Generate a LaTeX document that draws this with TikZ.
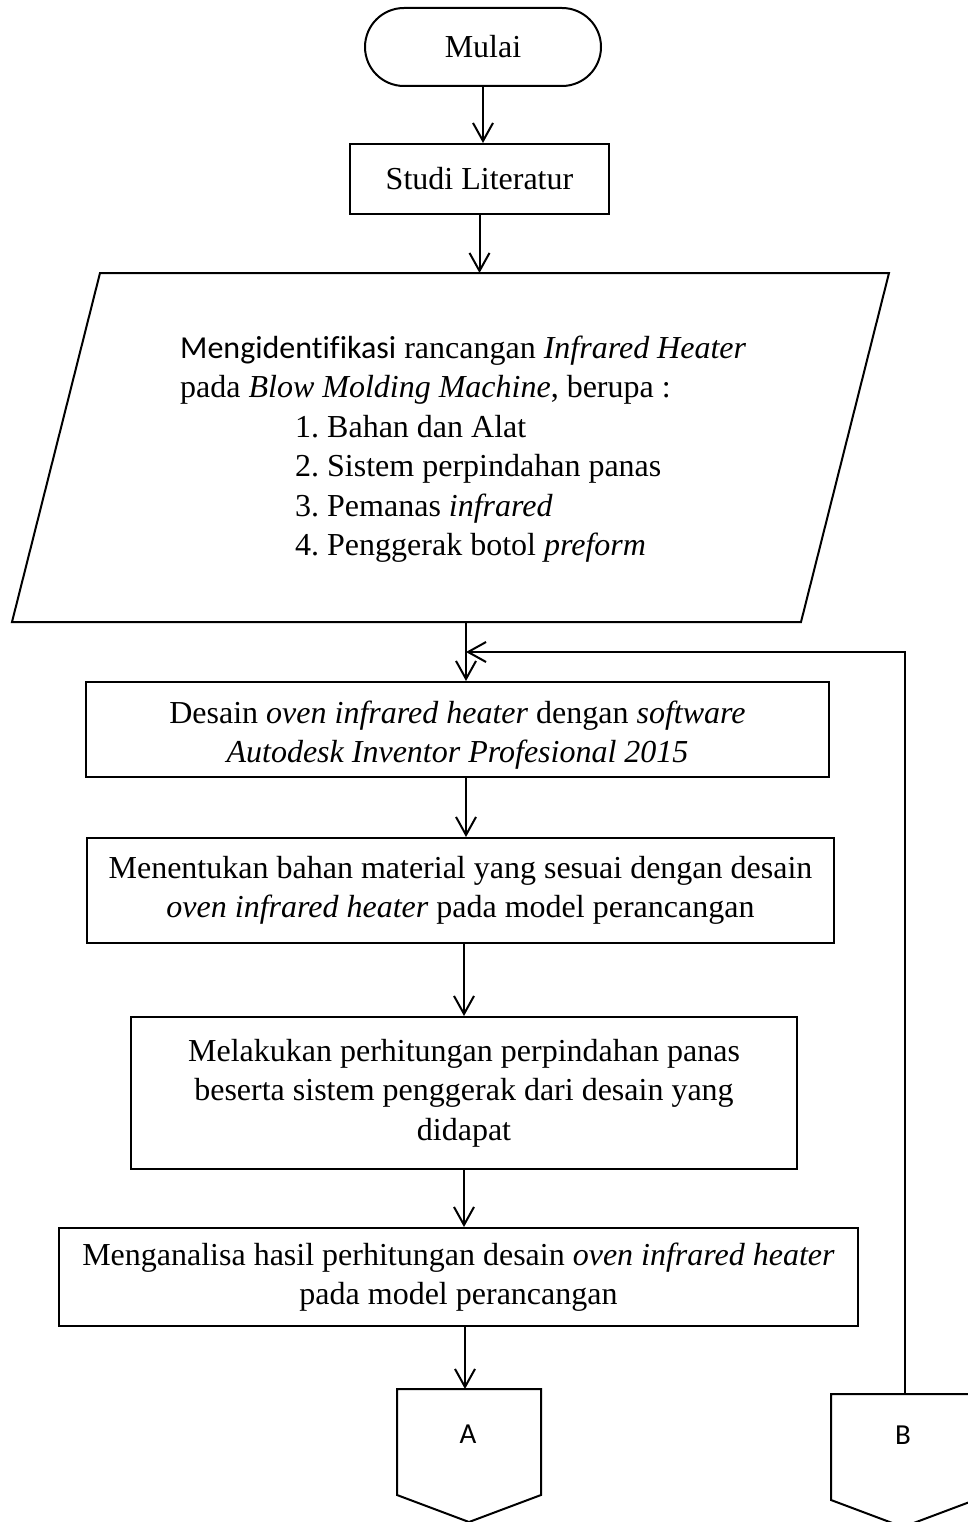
\documentclass[tikz,border=0pt]{standalone}
\usepackage{fontspec}
\setmainfont[Ligatures=NoCommon]{Liberation Serif}
\newfontfamily\calib[Ligatures=NoCommon]{Carlito}
\usetikzlibrary{arrows.meta}
\frenchspacing
\begin{document}
\begin{tikzpicture}[x=1pt,y=-1pt,
  base/.style={draw, line width=2pt, inner sep=0pt, align=center,
               font=\fontsize{32}{39.5}\selectfont},
  proc/.style={base, rectangle},
  term/.style={base, rectangle, rounded corners=39pt},
  flow/.style={-{Straight Barb[length=18pt,width=20pt]}, line width=2pt},
  outline/.style={draw, line width=2pt, line join=miter},
  conlabel/.style={inner sep=0pt, font=\calib\fontsize{29}{32}\selectfont}]
\path[use as bounding box] (0,0) rectangle (968,1522);
\begin{scope}
\clip (0,0) rectangle (968,1522);

% nodes
\node[term, minimum width=236pt, minimum height=78pt] (start) at (483,47) {Mulai};
\node[proc, minimum width=259pt, minimum height=70pt] (studi) at (479.5,179) {Studi Literatur};

% parallelogram (input/output)
\coordinate (pTL) at (100,273);
\coordinate (pTR) at (889,273);
\coordinate (pBR) at (801,622);
\coordinate (pBL) at (12,622);
\draw[outline] (pTL) -- (pTR) -- (pBR) -- (pBL) -- cycle;
\node[anchor=north west, align=left, inner sep=0pt,
      font=\fontsize{32}{39.5}\selectfont] (ident) at (180,335.5)
  {{\calib Mengidentifikasi} rancangan \textit{Infrared Heater}\\
   pada \textit{Blow Molding Machine}, berupa :\\
   \hspace*{115pt}1. Bahan dan Alat\\
   \hspace*{115pt}2. Sistem perpindahan panas\\
   \hspace*{115pt}3. Pemanas \textit{infrared}\\
   \hspace*{115pt}4. Penggerak botol \textit{preform}};
\coordinate (pout) at (466,622);

\node[proc, minimum width=743pt, minimum height=95pt, text height=74pt, text depth=7.5pt] (desain) at (457.5,729.5)
  {Desain \textit{oven infrared heater} dengan \textit{software}\\
   \textit{Autodesk Inventor Profesional 2015}};
\node[proc, minimum width=747pt, minimum height=105pt] (menentukan) at (460.5,890.5)
  {Menentukan bahan material yang sesuai dengan desain\\
   \textit{oven infrared heater} pada model perancangan};
\node[proc, minimum width=666pt, minimum height=152pt] (melakukan) at (464,1093)
  {Melakukan perhitungan perpindahan panas\\
   beserta sistem penggerak dari desain yang\\
   didapat};
\node[proc, minimum width=799pt, minimum height=98pt] (menganalisa) at (458.5,1277)
  {Menganalisa hasil perhitungan desain \textit{oven infrared heater}\\
   pada model perancangan};

% off-page connectors
\draw[outline] (397,1389) -- (541,1389) -- (541,1495) -- (469,1522) -- (397,1495) -- cycle;
\node[conlabel] (A) at (468,1434) {A};
\coordinate (Atop) at (465,1389);
\draw[outline] (831,1394) -- (975,1394) -- (975,1500) -- (903,1527) -- (831,1500) -- cycle;
\node[conlabel] (B) at (903,1435) {B};
\coordinate (Btop) at (905,1394);
\coordinate (loopin) at (466,652);

% connectors
\draw[flow] (start.south) -- (start.south |- studi.north);
\draw[flow] (studi.south) -- (studi.south |- pTL);
\draw[flow] (pout) -- (pout |- desain.north);
\draw[flow] (Btop) |- (loopin);
\draw[flow] (desain.south -| pout) -- (menentukan.north -| pout);
\draw[flow] (melakukan.north |- menentukan.south) -- (melakukan.north);
\draw[flow] (melakukan.south) -- (melakukan.south |- menganalisa.north);
\draw[flow] (Atop |- menganalisa.south) -- (Atop);
\end{scope}
\end{tikzpicture}
\end{document}
